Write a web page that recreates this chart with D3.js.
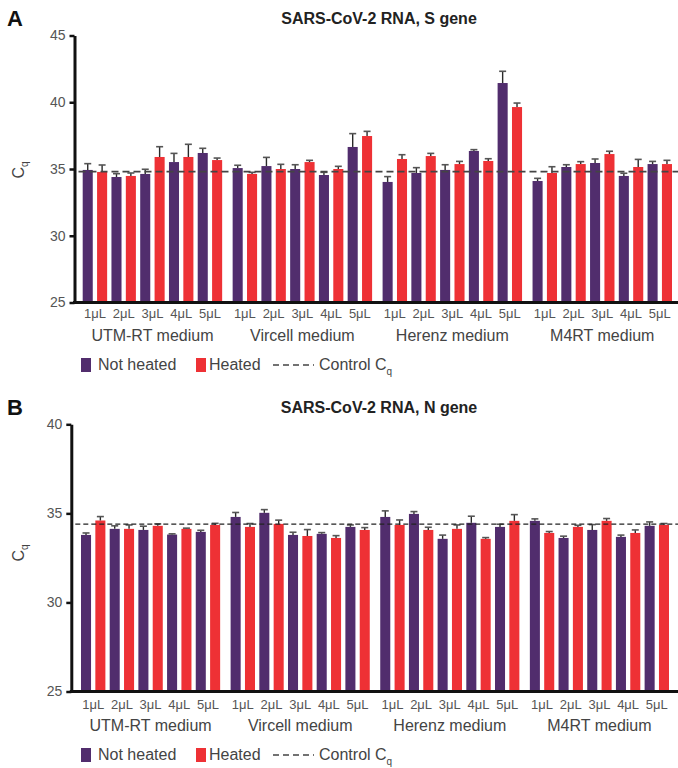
<!DOCTYPE html>
<html>
<head>
<meta charset="utf-8">
<script src="https://cdn.jsdelivr.net/npm/d3@7"></script>
<style>
  body { margin: 0; background: #fff; }
  text { font-family: "Liberation Sans", Arial, sans-serif; }
</style>
</head>
<body>
<div id="figure"></div>
<script>
const media = ["UTM-RT medium", "Vircell medium", "Herenz medium", "M4RT medium"];
const volumes = ["1μL", "2μL", "3μL", "4μL", "5μL"];

// S gene, medium-major (5 volumes per medium)
const sNotHeated = [34.93, 34.40, 34.63, 35.52, 36.20,  35.07, 35.22, 35.00, 34.55, 36.65,
                    34.03, 34.70, 34.93, 36.35, 41.44,  34.10, 35.15, 35.45, 34.48, 35.37];
const sNotHeatedErr = [0.47, 0.25, 0.35, 0.65, 0.35,  0.21, 0.65, 0.32, 0.20, 1.00,
                       0.40, 0.40, 0.39, 0.10, 0.88,  0.20, 0.17, 0.30, 0.20, 0.20];
const sHeated = [34.78, 34.48, 35.90, 35.90, 35.67,  34.63, 35.00, 35.52, 35.00, 37.47,
                 35.75, 35.97, 35.37, 35.60, 39.64,  34.70, 35.37, 36.12, 35.15, 35.37];
const sHeatedErr = [0.52, 0.22, 0.77, 0.95, 0.15,  0.12, 0.35, 0.13, 0.20, 0.35,
                    0.32, 0.20, 0.20, 0.17, 0.30,  0.47, 0.18, 0.21, 0.57, 0.28];
const sControl = 34.8;
const sTicks = [25, 30, 35, 40, 45];

// N gene
const nNotHeated = [33.79, 34.13, 34.07, 33.81, 33.96,  34.80, 35.03, 33.79, 33.85, 34.24,
                    34.80, 34.97, 33.57, 34.47, 34.24,  34.58, 33.62, 34.07, 33.68, 34.30];
const nNotHeatedErr = [0.11, 0.17, 0.21, 0.04, 0.09,  0.25, 0.18, 0.15, 0.07, 0.11,
                       0.34, 0.13, 0.21, 0.37, 0.15,  0.11, 0.10, 0.30, 0.10, 0.22];
const nHeated = [34.60, 34.13, 34.30, 34.13, 34.35,  34.24, 34.41, 33.73, 33.62, 34.07,
                 34.35, 34.07, 34.13, 33.57, 34.58,  33.90, 34.24, 34.58, 33.90, 34.35];
const nHeatedErr = [0.22, 0.22, 0.11, 0.04, 0.09,  0.19, 0.21, 0.36, 0.13, 0.13,
                    0.28, 0.15, 0.22, 0.07, 0.35,  0.08, 0.09, 0.13, 0.17, 0.08];
const nControl = 34.4;
const nTicks = [25, 30, 35, 40];

const purple = "#512d6d", red = "#ee3135";

const svg = d3.select("#figure").append("svg")
  .attr("width", 678).attr("height", 768);

function panel(p) {
  const g = svg.append("g");
  const y = d3.scaleLinear().domain(p.domain).range(p.yRange);
  const xg = d3.scaleBand().domain(media).range(p.xRange).paddingInner(0.07);
  const xb = d3.scaleBand().domain(d3.range(10)).range([0, xg.bandwidth()]).paddingInner(0.3);

  const rows = [];
  media.forEach((m, mi) => volumes.forEach((v, vi) => {
    const k = mi * 5 + vi;
    rows.push({ m, i: vi * 2, val: p.nh[k], err: p.nhErr[k], c: purple });
    rows.push({ m, i: vi * 2 + 1, val: p.h[k], err: p.hErr[k], c: red });
  }));

  g.selectAll("rect.bar").data(rows).join("rect")
    .attr("class", "bar")
    .attr("x", d => xg(d.m) + xb(d.i))
    .attr("width", xb.bandwidth())
    .attr("y", d => y(d.val))
    .attr("height", d => y(p.domain[0]) - y(d.val))
    .attr("fill", d => d.c);

  // error bars
  const cx = d => xg(d.m) + xb(d.i) + xb.bandwidth() / 2;
  g.selectAll("line.stem").data(rows).join("line")
    .attr("x1", cx).attr("x2", cx)
    .attr("y1", d => y(d.val)).attr("y2", d => y(d.val + d.err))
    .attr("stroke", "#2a2a2a").attr("stroke-width", 1.4);
  g.selectAll("line.cap").data(rows).join("line")
    .attr("x1", d => cx(d) - 3.5).attr("x2", d => cx(d) + 3.5)
    .attr("y1", d => y(d.val + d.err)).attr("y2", d => y(d.val + d.err))
    .attr("stroke", "#555").attr("stroke-width", 1.6);

  // control line
  g.append("line")
    .attr("x1", p.axisX + 4).attr("x2", 678)
    .attr("y1", y(p.control)).attr("y2", y(p.control))
    .attr("stroke", p.dashColor).attr("stroke-width", p.dashWidth)
    .attr("stroke-dasharray", p.dash);

  // y axis
  const ya = g.append("g")
    .attr("transform", `translate(${p.axisX},0)`)
    .call(d3.axisLeft(y).tickValues(p.ticks).tickSize(5).tickSizeOuter(0).tickPadding(4));
  ya.select(".domain").attr("stroke", "#111").attr("stroke-width", 3);
  ya.selectAll(".tick line").attr("stroke", "#111").attr("stroke-width", 2.5);
  ya.selectAll(".tick text").attr("fill", "#555").style("font-size", "14px")
    .style("font-family", "'Liberation Sans', Arial, sans-serif");

  // x axis line
  g.append("line")
    .attr("x1", p.axisX - 1.5).attr("x2", 678)
    .attr("y1", y(p.domain[0])).attr("y2", y(p.domain[0]))
    .attr("stroke", "#111").attr("stroke-width", 3);

  // volume labels
  media.forEach(m => volumes.forEach((v, vi) => {
    g.append("text")
      .attr("x", xg(m) + (xb(vi * 2) + xb(vi * 2 + 1) + xb.bandwidth()) / 2)
      .attr("y", p.tickBase)
      .attr("text-anchor", "middle")
      .attr("fill", "#555").style("font-size", "13px")
      .text(v);
  }));
  // medium labels
  media.forEach(m => {
    g.append("text")
      .attr("x", xg(m) + xg.bandwidth() / 2)
      .attr("y", p.groupBase)
      .attr("text-anchor", "middle")
      .attr("fill", "#444").style("font-size", "16px")
      .text(m);
  });

  // title + panel letter
  g.append("text").attr("x", 379).attr("y", p.titleBase)
    .attr("text-anchor", "middle").attr("font-weight", "bold")
    .attr("fill", "#222").style("font-size", "16px").text(p.title);
  g.append("text").attr("x", 7).attr("y", p.titleBase + 2)
    .attr("font-weight", "bold").attr("fill", "#111")
    .style("font-size", "22px").text(p.letter);

  // y label
  const yl = g.append("text")
    .attr("transform", `translate(${p.ylabX},${p.ylabY}) rotate(-90)`)
    .attr("text-anchor", "middle").attr("fill", "#444").style("font-size", "16px");
  yl.append("tspan").text("C");
  yl.append("tspan").attr("dy", 4).style("font-size", "10px").text("q");

  // legend
  const ly = p.legendBase;
  g.append("rect").attr("x", 81).attr("y", ly - 12).attr("width", 10).attr("height", 14).attr("fill", purple);
  g.append("text").attr("x", 98).attr("y", ly).attr("fill", "#444").style("font-size", "16px").text("Not heated");
  g.append("rect").attr("x", 196).attr("y", ly - 12).attr("width", 10).attr("height", 14).attr("fill", red);
  g.append("text").attr("x", 209).attr("y", ly).attr("fill", "#444").style("font-size", "16px").text("Heated");
  g.append("line").attr("x1", 273).attr("x2", 314).attr("y1", ly - 5).attr("y2", ly - 5)
    .attr("stroke", "#444").attr("stroke-width", 1.3).attr("stroke-dasharray", "6,4");
  const lt = g.append("text").attr("x", 319).attr("y", ly).attr("fill", "#444").style("font-size", "16px");
  lt.append("tspan").text("Control C");
  lt.append("tspan").attr("dy", 5).style("font-size", "10px").text("q");
}

panel({
  domain: [25, 45], yRange: [302.5, 35.5], xRange: [82.7, 672], axisX: 74.5,
  ticks: sTicks, nh: sNotHeated, nhErr: sNotHeatedErr, h: sHeated, hErr: sHeatedErr,
  control: sControl, dash: "7,4", dashColor: "#444", dashWidth: 1.6,
  tickBase: 318, groupBase: 341, legendBase: 370, titleBase: 24,
  title: "SARS-CoV-2 RNA, S gene", letter: "A", ylabX: 24, ylabY: 170
});

panel({
  domain: [25, 40], yRange: [691.5, 424.3], xRange: [81, 669], axisX: 71.3,
  ticks: nTicks, nh: nNotHeated, nhErr: nNotHeatedErr, h: nHeated, hErr: nHeatedErr,
  control: nControl, dash: "5,3", dashColor: "#222", dashWidth: 1.2,
  tickBase: 709, groupBase: 731, legendBase: 760, titleBase: 413,
  title: "SARS-CoV-2 RNA, N gene", letter: "B", ylabX: 24, ylabY: 553
});
</script>
</body>
</html>
